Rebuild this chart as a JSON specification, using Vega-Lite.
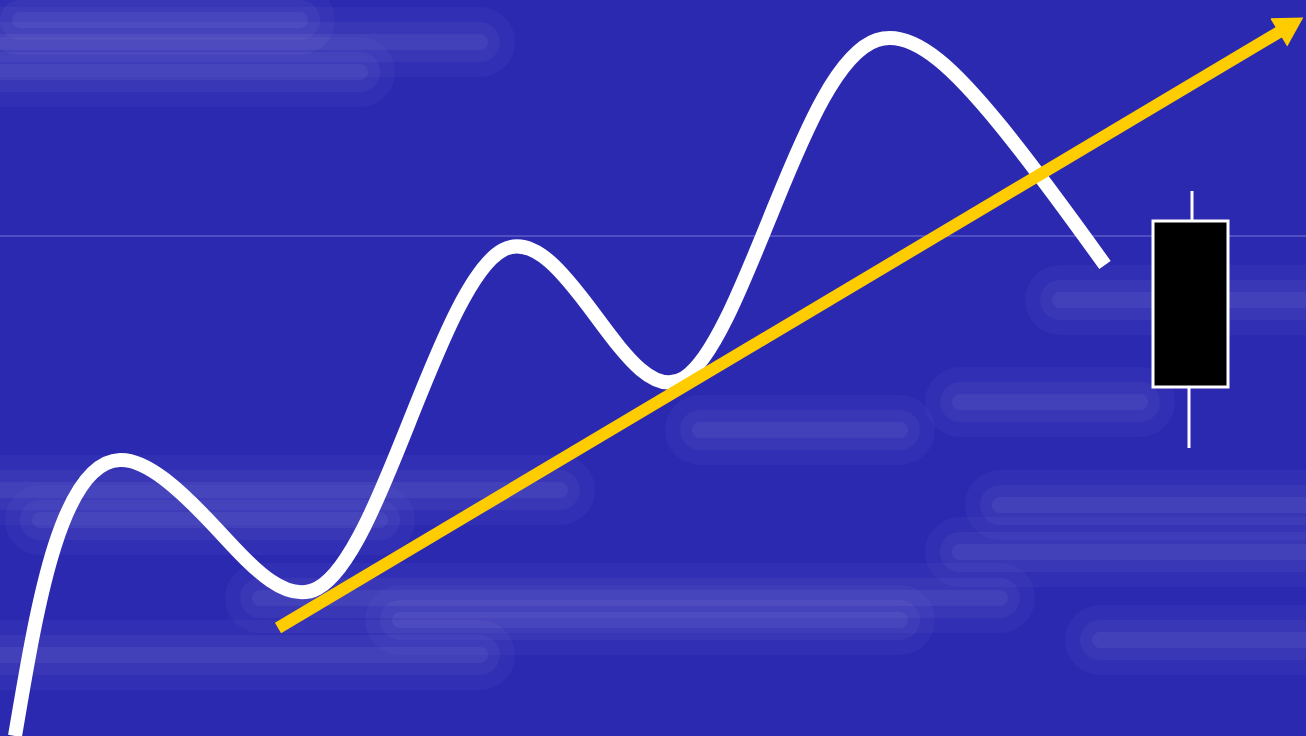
{
  "$schema": "https://vega.github.io/schema/vega-lite/v6.json",
  "width": 1306,
  "height": 736,
  "autosize": {"type": "none"},
  "padding": 0,
  "background": "#2B29B0",
  "config": {"view": {"stroke": null}},
  "datasets": {
    "clouds": [
      {"x": 0, "x2": 480, "y": 42},
      {"x": 0, "x2": 360, "y": 72},
      {"x": 20, "x2": 300, "y": 20},
      {"x": 0, "x2": 560, "y": 490},
      {"x": 40, "x2": 380, "y": 520},
      {"x": 260, "x2": 1000, "y": 598},
      {"x": 400, "x2": 900, "y": 620},
      {"x": 0, "x2": 480, "y": 655},
      {"x": 960, "x2": 1306, "y": 552},
      {"x": 1000, "x2": 1306, "y": 505},
      {"x": 1060, "x2": 1306, "y": 300},
      {"x": 960, "x2": 1140, "y": 402},
      {"x": 700, "x2": 900, "y": 430},
      {"x": 1100, "x2": 1306, "y": 640}
    ],
    "wave": [
      {"x": 15, "y": 736}, {"x": 55, "y": 545}, {"x": 120, "y": 460},
      {"x": 215, "y": 527}, {"x": 318, "y": 588}, {"x": 412, "y": 415},
      {"x": 503, "y": 250}, {"x": 595, "y": 315}, {"x": 684, "y": 378},
      {"x": 775, "y": 205}, {"x": 877, "y": 40}, {"x": 1000, "y": 125},
      {"x": 1105, "y": 265}
    ],
    "trend": [{"x": 278, "y": 628}, {"x": 1286, "y": 28}],
    "arrow": [{"x": 1291, "y": 25}],
    "hline": [{"y": 236}],
    "wick": [{"x": 1192, "y": 191, "y2": 221}, {"x": 1189, "y": 387, "y2": 448}],
    "body": [{"x": 1153, "x2": 1228, "y": 221, "y2": 387}]
  },
  "layer": [
    {
      "data": {"name": "clouds"},
      "mark": {"type": "rule", "color": "#B8B8F0", "strokeWidth": 70, "strokeCap": "round", "opacity": 0.05},
      "encoding": {
        "x": {"field": "x", "type": "quantitative", "scale": {"domain": [0, 1306]}, "axis": null},
        "x2": {"field": "x2"},
        "y": {"field": "y", "type": "quantitative", "scale": {"domain": [0, 736], "reverse": true}, "axis": null}
      }
    },
    {
      "data": {"name": "clouds"},
      "mark": {"type": "rule", "color": "#B8B8F0", "strokeWidth": 40, "strokeCap": "round", "opacity": 0.06},
      "encoding": {
        "x": {"field": "x", "type": "quantitative", "scale": {"domain": [0, 1306]}, "axis": null},
        "x2": {"field": "x2"},
        "y": {"field": "y", "type": "quantitative", "scale": {"domain": [0, 736], "reverse": true}, "axis": null}
      }
    },
    {
      "data": {"name": "clouds"},
      "mark": {"type": "rule", "color": "#C8C8F6", "strokeWidth": 16, "strokeCap": "round", "opacity": 0.07},
      "encoding": {
        "x": {"field": "x", "type": "quantitative", "scale": {"domain": [0, 1306]}, "axis": null},
        "x2": {"field": "x2"},
        "y": {"field": "y", "type": "quantitative", "scale": {"domain": [0, 736], "reverse": true}, "axis": null}
      }
    },
    {
      "data": {"name": "hline"},
      "mark": {"type": "rule", "color": "#7674D0", "strokeWidth": 1},
      "encoding": {
        "y": {"field": "y", "type": "quantitative", "scale": {"domain": [0, 736], "reverse": true}, "axis": null}
      }
    },
    {
      "data": {"name": "wave"},
      "mark": {"type": "line", "color": "#FFFFFF", "strokeWidth": 14, "interpolate": "natural", "clip": true},
      "encoding": {
        "x": {"field": "x", "type": "quantitative", "scale": {"domain": [0, 1306]}, "axis": null},
        "y": {"field": "y", "type": "quantitative", "scale": {"domain": [0, 736], "reverse": true}, "axis": null}
      }
    },
    {
      "data": {"name": "trend"},
      "mark": {"type": "line", "color": "#FFCC00", "strokeWidth": 12},
      "encoding": {
        "x": {"field": "x", "type": "quantitative", "scale": {"domain": [0, 1306]}, "axis": null},
        "y": {"field": "y", "type": "quantitative", "scale": {"domain": [0, 736], "reverse": true}, "axis": null}
      }
    },
    {
      "data": {"name": "arrow"},
      "mark": {"type": "point", "shape": "triangle-right", "filled": true, "color": "#FFCC00", "opacity": 1, "size": 1100, "angle": -31, "clip": true},
      "encoding": {
        "x": {"field": "x", "type": "quantitative", "scale": {"domain": [0, 1306]}, "axis": null},
        "y": {"field": "y", "type": "quantitative", "scale": {"domain": [0, 736], "reverse": true}, "axis": null}
      }
    },
    {
      "data": {"name": "wick"},
      "mark": {"type": "rule", "color": "#FFFFFF", "strokeWidth": 3},
      "encoding": {
        "x": {"field": "x", "type": "quantitative", "scale": {"domain": [0, 1306]}, "axis": null},
        "y": {"field": "y", "type": "quantitative", "scale": {"domain": [0, 736], "reverse": true}, "axis": null},
        "y2": {"field": "y2"}
      }
    },
    {
      "data": {"name": "body"},
      "mark": {"type": "rect", "fill": "#000000", "stroke": "#FFFFFF", "strokeWidth": 3},
      "encoding": {
        "x": {"field": "x", "type": "quantitative", "scale": {"domain": [0, 1306]}, "axis": null},
        "x2": {"field": "x2"},
        "y": {"field": "y", "type": "quantitative", "scale": {"domain": [0, 736], "reverse": true}, "axis": null},
        "y2": {"field": "y2"}
      }
    }
  ]
}
